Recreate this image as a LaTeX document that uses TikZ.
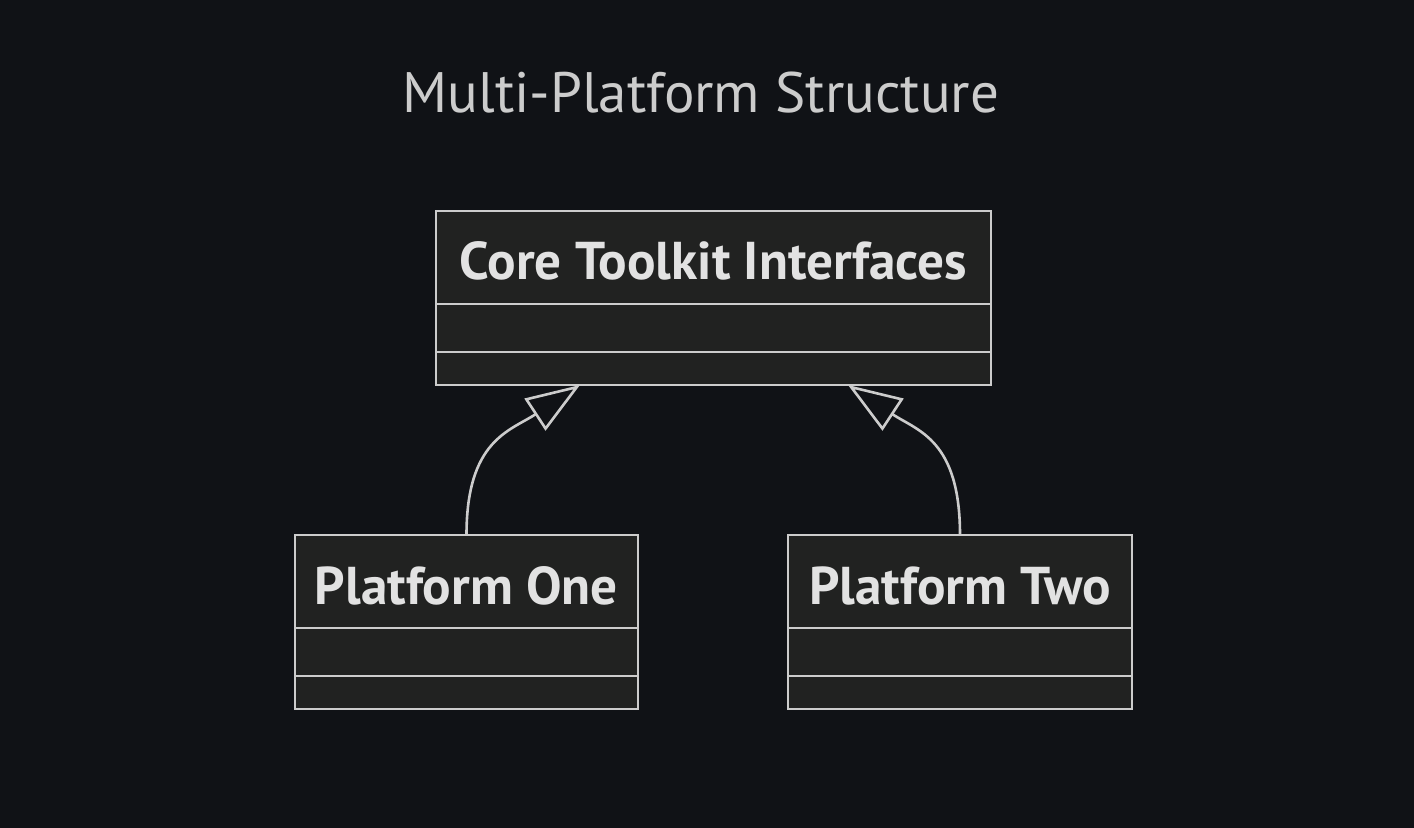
\documentclass[tikz,border=0pt]{standalone}
\usepackage{fontspec}
\setmainfont{PT Sans}
\usetikzlibrary{positioning,calc,arrows.meta}

\definecolor{bgdark}{HTML}{101216}
\definecolor{boxfill}{HTML}{212221}
\definecolor{boxline}{HTML}{CCCCCC}
\definecolor{boxtext}{HTML}{E2E2E2}
\definecolor{titletext}{HTML}{CCCCCC}

\begin{document}
\begin{tikzpicture}[
    x = 0.5pt, y = -0.5pt,
    attrbox/.style = {
        draw = boxline,
        fill = boxfill,
        rectangle,
        line width = 1.3pt,
        inner sep = 0pt,
        outer sep = 0pt,
        minimum height = 24pt
    },
    header/.style = {
        attrbox,
        minimum height = 46.5pt,
        text height = 22.5pt,
        text depth = 0pt,
        text = boxtext,
        font = \fontsize{26.6}{30}\selectfont\bfseries
    },
    methbox/.style = {
        attrbox,
        minimum height = 16.5pt
    },
    inherit/.style = {
        draw = boxline,
        line width = 1.3pt,
        -{Triangle[open, length = 27pt, width = 19pt]}
    }
]

% Background and bounding box
\fill[bgdark] (0, 0) rectangle (1414, 828);
\useasboundingbox (0, 0) rectangle (1414, 828);

% Title
\node[anchor = base, text = titletext, font = \fontsize{28.5}{34}\selectfont] (title) at (701, 113) {Multi-Platform Structure};

% Core class
\node[header, minimum width = 277.5pt] (core) at (713.5, 257.5) {Core Toolkit Interfaces};
\node[attrbox, minimum width = 277.5pt, below = 0pt of core] (coreattr) {};
\node[methbox, minimum width = 277.5pt, below = 0pt of coreattr] (coremeth) {};

% Platform classes
\node[header, minimum width = 171.5pt] (one) at (466.5, 581.5) {Platform One};
\node[attrbox, minimum width = 171.5pt, below = 0pt of one] (oneattr) {};
\node[methbox, minimum width = 171.5pt, below = 0pt of oneattr] (onemeth) {};

\node[header, minimum width = 172pt] (two) at (960, 581.5) {Platform Two};
\node[attrbox, minimum width = 172pt, below = 0pt of two] (twoattr) {};
\node[methbox, minimum width = 172pt, below = 0pt of twoattr] (twometh) {};

% Inheritance arrows
\draw[inherit] (one.north) .. controls ++(0, -95) and ($(coremeth.south) + (-203.5, 46)$) .. ($(coremeth.south) + (-133.5, 0)$);
\draw[inherit] (two.north) .. controls ++(0, -95) and ($(coremeth.south) + (204.5, 46)$) .. ($(coremeth.south) + (134.5, 0)$);

\end{tikzpicture}
\end{document}
